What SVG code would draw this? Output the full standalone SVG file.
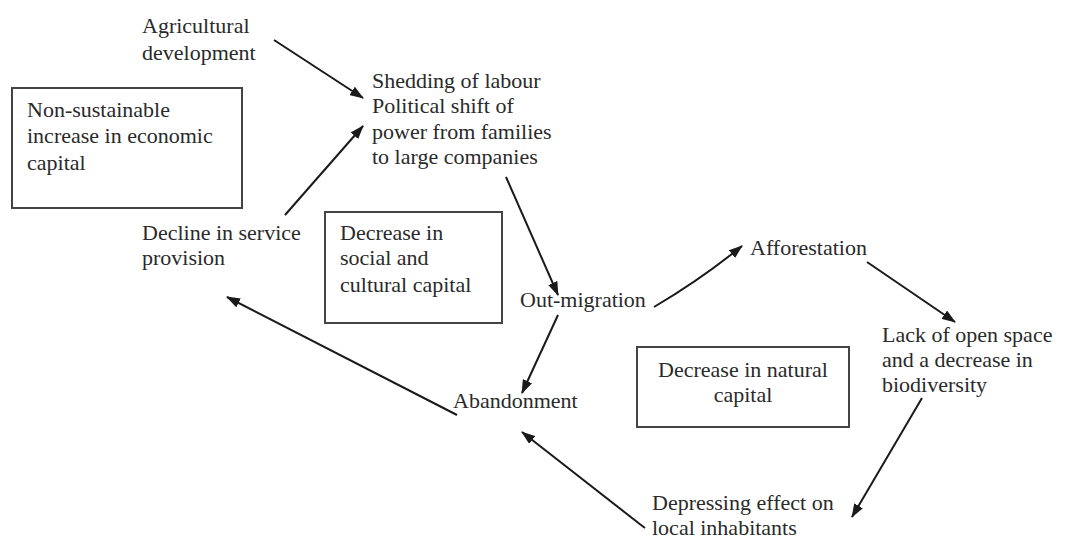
<svg xmlns="http://www.w3.org/2000/svg" width="1066" height="538" viewBox="0 0 1066 538">
<style>
text{font-family:"Liberation Serif","Times New Roman",serif;font-size:22px;fill:#2a2a2a}
.box{fill:none;stroke:#444;stroke-width:2}
.c{stroke:#1a1a1a;stroke-width:2;fill:none;marker-end:url(#ah)}
</style>
<defs>
<marker id="ah" viewBox="0 0 14 10" refX="13" refY="5" markerWidth="14" markerHeight="10" markerUnits="userSpaceOnUse" orient="auto">
<path d="M0,0 L14,5 L0,10 Z" fill="#1a1a1a"/>
</marker>
</defs>
<rect width="1066" height="538" fill="#fff"/>
<g id="n-agri"><text x="142" y="33">Agricultural</text><text x="142" y="60">development</text></g>
<g id="n-econ"><rect class="box" x="12" y="88" width="230" height="120"/><text x="27" y="117">Non-sustainable</text><text x="27" y="143">increase in economic</text><text x="27" y="170">capital</text></g>
<g id="n-shed"><text x="372" y="88">Shedding of labour</text><text x="372" y="113">Political shift of</text><text x="372" y="139">power from families</text><text x="372" y="164">to large companies</text></g>
<g id="n-decline"><text x="142" y="240">Decline in service</text><text x="142" y="265">provision</text></g>
<g id="n-social"><rect class="box" x="325" y="212" width="177" height="111"/><text x="340" y="240">Decrease in</text><text x="340" y="265">social and</text><text x="340" y="292">cultural capital</text></g>
<g id="n-out"><text x="520" y="307">Out-migration</text></g>
<g id="n-aff"><text x="750" y="255">Afforestation</text></g>
<g id="n-lack"><text x="882" y="342">Lack of open space</text><text x="882" y="367">and a decrease in</text><text x="882" y="392">biodiversity</text></g>
<g id="n-natural"><rect class="box" x="637" y="347" width="212" height="80"/><text x="743" y="377" text-anchor="middle">Decrease in natural</text><text x="743" y="402" text-anchor="middle">capital</text></g>
<g id="n-aband"><text x="453" y="408">Abandonment</text></g>
<g id="n-depr"><text x="652" y="510">Depressing effect on</text><text x="652" y="535">local inhabitants</text></g>
<g id="connectors">
<line class="c" x1="274" y1="40" x2="363" y2="98"/>
<line class="c" x1="285" y1="215" x2="363" y2="126"/>
<line class="c" x1="506" y1="177" x2="558" y2="295"/>
<path class="c" d="M654,307 Q700,280 742,246"/>
<line class="c" x1="867" y1="262" x2="955" y2="322"/>
<line class="c" x1="922" y1="398" x2="852" y2="517"/>
<path class="c" d="M645,528 L641,525 L522,432"/>
<line class="c" x1="558" y1="315" x2="522" y2="393"/>
<line class="c" x1="457" y1="415" x2="227" y2="297"/>
</g>
</svg>
